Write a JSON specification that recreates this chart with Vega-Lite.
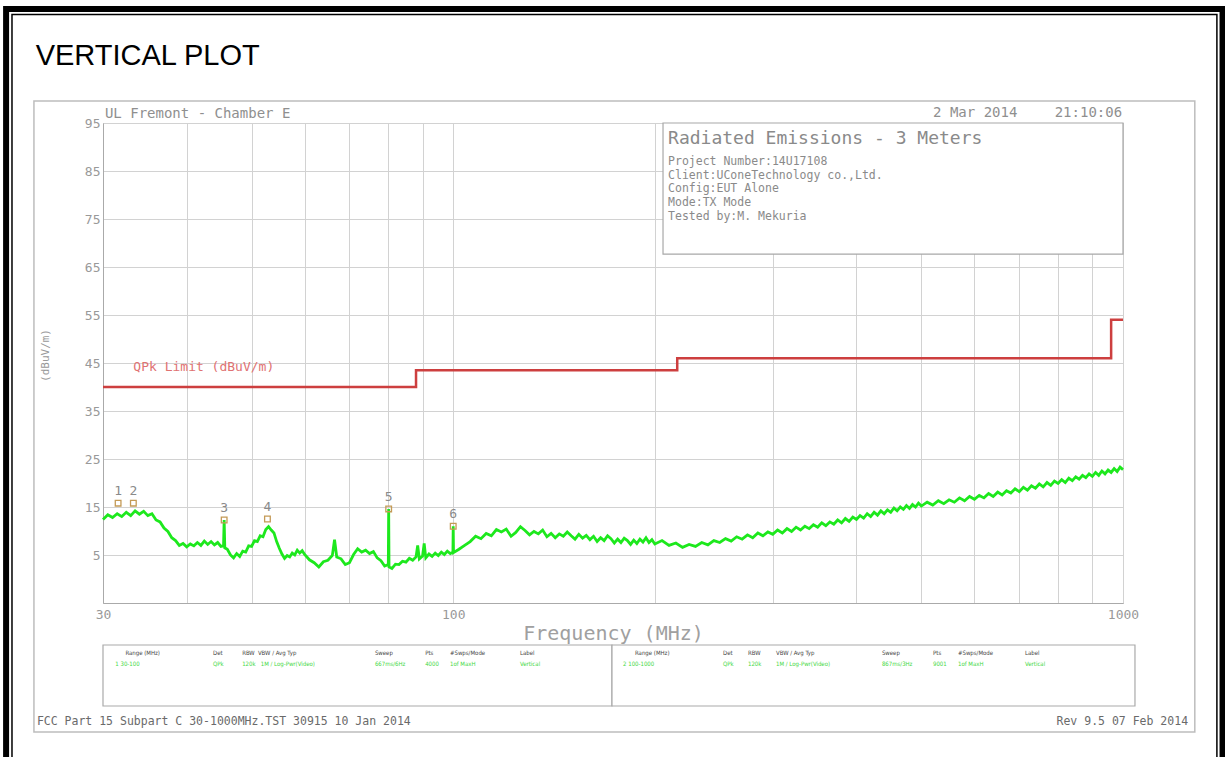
{
  "$schema": "https://vega.github.io/schema/vega-lite/v6.json",
  "width": 1020,
  "height": 480,
  "autosize": {"type": "none"},
  "padding": {"left": 103, "top": 123, "right": 102, "bottom": 154},
  "background": "white",
  "config": {
    "view": {"stroke": "#b0b0b0", "strokeWidth": 1},
    "text": {"font": "DejaVu Sans Mono"}
  },
  "encoding": {
    "x": {
      "field": "f", "type": "quantitative",
      "scale": {"type": "log", "domain": [30, 1000], "nice": false},
      "title": "Frequency (MHz)",
      "axis": {
        "values": [30, 40, 50, 60, 70, 80, 90, 100, 200, 300, 400, 500, 600, 700, 800, 900, 1000],
        "labelExpr": "datum.value == 30 || datum.value == 100 || datum.value == 1000 ? datum.label : ''",
        "format": "d", "ticks": false, "grid": true, "gridColor": "#d2d2d2", "domainColor": "#aaaaaa",
        "labelFlush": false, "labelOverlap": false, "labelFont": "DejaVu Sans Mono", "labelFontSize": 13,
        "labelColor": "#999999", "labelPadding": 5,
        "titleFont": "DejaVu Sans Mono", "titleFontSize": 20, "titleFontWeight": "normal",
        "titleColor": "#a0a0a0", "titleY": 20, "titleBaseline": "top"
      }
    },
    "y": {
      "field": "v", "type": "quantitative",
      "scale": {"domain": [-5, 95], "nice": false, "zero": false},
      "title": "(dBuV/m)",
      "axis": {
        "values": [-5, 5, 15, 25, 35, 45, 55, 65, 75, 85, 95],
        "labelExpr": "datum.value == -5 ? '' : datum.label",
        "ticks": false, "grid": true, "gridColor": "#d2d2d2", "domainColor": "#aaaaaa",
        "labelFont": "DejaVu Sans Mono", "labelFontSize": 13, "labelColor": "#999999", "labelPadding": 3,
        "titleFont": "DejaVu Sans Mono", "titleFontSize": 11, "titleFontWeight": "normal",
        "titleColor": "#999999", "titleX": -53, "titleY": 232, "titleAngle": -90
      }
    }
  },
  "layer": [
    {
      "data": {"values": [{"f": 21.5, "f2": 1408, "v": -40, "v2": 118.75}]},
      "mark": {"type": "rect", "fill": "white", "fillOpacity": 0, "stroke": "black", "strokeWidth": 6},
      "encoding": {"x2": {"field": "f2"}, "y2": {"field": "v2"}}
    },
    {
      "data": {"values": [{"f": 21.94, "f2": 1381, "v": -40, "v2": 117.6}]},
      "mark": {"type": "rect", "fill": "white", "fillOpacity": 0, "stroke": "black", "strokeWidth": 1.5},
      "encoding": {"x2": {"field": "f2"}, "y2": {"field": "v2"}}
    },
    {
      "data": {"values": [{"f": 23.66, "f2": 1280, "v": -31.9, "v2": 99.58}]},
      "mark": {"type": "rect", "fill": "white", "fillOpacity": 0, "stroke": "#bdbdbd", "strokeWidth": 1.5},
      "encoding": {"x2": {"field": "f2"}, "y2": {"field": "v2"}}
    },
    {
      "data": {"values": [{"f": 205.7, "f2": 1000, "v": 67.7, "v2": 95}]},
      "mark": {"type": "rect", "fill": "white", "stroke": "#a8a8a8", "strokeWidth": 1.2},
      "encoding": {"x2": {"field": "f2"}, "y2": {"field": "v2"}}
    },
    {
      "data": {"values": [{"f": 30, "f2": 172.6, "v": -26.46, "v2": -13.75}, {"f": 172.6, "f2": 1042, "v": -26.46, "v2": -13.75}]},
      "mark": {"type": "rect", "fill": "white", "stroke": "#aaaaaa", "strokeWidth": 1.2},
      "encoding": {"x2": {"field": "f2"}, "y2": {"field": "v2"}}
    },
    {
      "data": {"values": [{"f": 30, "v": 40}, {"f": 88, "v": 43.5}, {"f": 216, "v": 46}, {"f": 960, "v": 54}, {"f": 1000, "v": 54}]},
      "mark": {"type": "line", "interpolate": "step-after", "color": "#cd3f3f", "strokeWidth": 2.5},
      "encoding": {}
    },
    {
      "data": {"values": [
        {"f": 30, "v": 12.4}, {"f": 30.5, "v": 13.4}, {"f": 31, "v": 12.8}, {"f": 31.5, "v": 13.6}, {"f": 32, "v": 13.0},
        {"f": 32.5, "v": 13.9}, {"f": 33, "v": 13.2}, {"f": 33.5, "v": 14.2}, {"f": 34, "v": 13.5}, {"f": 34.5, "v": 14.1},
        {"f": 35, "v": 13.2}, {"f": 35.5, "v": 13.6}, {"f": 36, "v": 12.3}, {"f": 36.5, "v": 11.9}, {"f": 37, "v": 10.6},
        {"f": 37.5, "v": 9.9}, {"f": 38, "v": 8.6}, {"f": 38.5, "v": 8.0}, {"f": 39, "v": 7.0}, {"f": 39.5, "v": 7.4},
        {"f": 40, "v": 6.7}, {"f": 40.5, "v": 7.3}, {"f": 41, "v": 6.9}, {"f": 41.5, "v": 7.6}, {"f": 42, "v": 7.0},
        {"f": 42.5, "v": 7.9}, {"f": 43, "v": 7.2}, {"f": 43.5, "v": 7.8}, {"f": 44, "v": 7.1}, {"f": 44.5, "v": 7.6},
        {"f": 45, "v": 6.8}, {"f": 45.4, "v": 6.9}, {"f": 45.5, "v": 12.3}, {"f": 45.6, "v": 6.5}, {"f": 46, "v": 6.2},
        {"f": 46.5, "v": 5.0}, {"f": 47, "v": 4.4}, {"f": 47.5, "v": 5.3}, {"f": 48, "v": 4.7}, {"f": 48.5, "v": 5.8},
        {"f": 49, "v": 5.6}, {"f": 49.5, "v": 6.9}, {"f": 50, "v": 6.8}, {"f": 50.5, "v": 8.0}, {"f": 51, "v": 7.8},
        {"f": 51.5, "v": 9.0}, {"f": 52, "v": 8.8}, {"f": 52.5, "v": 10.3}, {"f": 53, "v": 10.9}, {"f": 53.5, "v": 10.2},
        {"f": 54, "v": 9.6}, {"f": 54.5, "v": 7.8}, {"f": 55, "v": 6.4}, {"f": 55.5, "v": 5.2}, {"f": 56, "v": 4.3},
        {"f": 56.5, "v": 4.9}, {"f": 57, "v": 4.6}, {"f": 57.5, "v": 5.4}, {"f": 58, "v": 5.0}, {"f": 58.5, "v": 6.0},
        {"f": 59, "v": 5.4}, {"f": 59.5, "v": 5.9}, {"f": 60, "v": 5.1}, {"f": 61, "v": 4.0}, {"f": 62, "v": 3.4},
        {"f": 63, "v": 2.5}, {"f": 64, "v": 3.6}, {"f": 65, "v": 3.9}, {"f": 66, "v": 4.9}, {"f": 66.5, "v": 8.2},
        {"f": 67, "v": 4.6}, {"f": 68, "v": 4.2}, {"f": 69, "v": 3.0}, {"f": 70, "v": 3.4}, {"f": 71, "v": 5.1},
        {"f": 72, "v": 6.3}, {"f": 73, "v": 5.6}, {"f": 74, "v": 6.0}, {"f": 75, "v": 5.3}, {"f": 76, "v": 5.7},
        {"f": 77, "v": 4.4}, {"f": 78, "v": 3.8}, {"f": 79, "v": 2.7}, {"f": 80, "v": 3.0}, {"f": 80.1, "v": 14.6},
        {"f": 80.2, "v": 2.5}, {"f": 81, "v": 2.2}, {"f": 82, "v": 3.1}, {"f": 83, "v": 3.0}, {"f": 84, "v": 3.7},
        {"f": 85, "v": 3.5}, {"f": 86, "v": 4.3}, {"f": 87, "v": 3.9}, {"f": 88, "v": 4.6}, {"f": 88.5, "v": 7.0},
        {"f": 89, "v": 4.2}, {"f": 90, "v": 4.8}, {"f": 90.5, "v": 7.4}, {"f": 91, "v": 4.4}, {"f": 92, "v": 5.2},
        {"f": 93, "v": 4.7}, {"f": 94, "v": 5.4}, {"f": 95, "v": 4.9}, {"f": 96, "v": 5.6}, {"f": 97, "v": 5.1},
        {"f": 98, "v": 5.8}, {"f": 99, "v": 5.3}, {"f": 99.9, "v": 5.6}, {"f": 100, "v": 11.0}, {"f": 100.1, "v": 5.5},
        {"f": 102, "v": 6.2}, {"f": 104, "v": 7.0}, {"f": 106, "v": 7.8}, {"f": 108, "v": 8.9}, {"f": 110, "v": 8.4},
        {"f": 112, "v": 9.5}, {"f": 114, "v": 9.0}, {"f": 116, "v": 10.3}, {"f": 118, "v": 9.8}, {"f": 120, "v": 10.4},
        {"f": 122, "v": 8.9}, {"f": 124, "v": 9.7}, {"f": 126, "v": 10.9}, {"f": 128, "v": 10.1}, {"f": 130, "v": 9.2},
        {"f": 132, "v": 9.9}, {"f": 134, "v": 9.4}, {"f": 136, "v": 10.2}, {"f": 138, "v": 8.8}, {"f": 140, "v": 9.5},
        {"f": 142, "v": 8.6}, {"f": 144, "v": 9.4}, {"f": 146, "v": 8.9}, {"f": 148, "v": 9.8}, {"f": 150, "v": 9.0},
        {"f": 152, "v": 8.3}, {"f": 154, "v": 9.3}, {"f": 156, "v": 8.5}, {"f": 158, "v": 9.1}, {"f": 160, "v": 8.2},
        {"f": 162, "v": 8.9}, {"f": 164, "v": 7.8}, {"f": 166, "v": 8.6}, {"f": 168, "v": 8.0}, {"f": 170, "v": 9.0},
        {"f": 172, "v": 8.4}, {"f": 174, "v": 7.5}, {"f": 176, "v": 8.3}, {"f": 178, "v": 7.6}, {"f": 180, "v": 8.5},
        {"f": 182, "v": 8.0}, {"f": 184, "v": 7.2}, {"f": 186, "v": 8.1}, {"f": 188, "v": 7.4}, {"f": 190, "v": 8.3},
        {"f": 192, "v": 7.7}, {"f": 194, "v": 8.6}, {"f": 196, "v": 7.6}, {"f": 198, "v": 8.2}, {"f": 200, "v": 7.3},
        {"f": 205, "v": 8.0}, {"f": 210, "v": 7.0}, {"f": 215, "v": 7.5}, {"f": 220, "v": 6.6}, {"f": 225, "v": 7.2},
        {"f": 230, "v": 6.8}, {"f": 235, "v": 7.6}, {"f": 240, "v": 7.1}, {"f": 245, "v": 8.0}, {"f": 250, "v": 7.6},
        {"f": 255, "v": 8.4}, {"f": 260, "v": 7.9}, {"f": 265, "v": 8.8}, {"f": 270, "v": 8.3}, {"f": 275, "v": 9.2},
        {"f": 280, "v": 8.6}, {"f": 285, "v": 9.6}, {"f": 290, "v": 9.0}, {"f": 295, "v": 9.8}, {"f": 300, "v": 9.3},
        {"f": 305, "v": 10.2}, {"f": 310, "v": 9.6}, {"f": 315, "v": 10.5}, {"f": 320, "v": 9.9}, {"f": 325, "v": 10.8},
        {"f": 330, "v": 10.2}, {"f": 335, "v": 11.0}, {"f": 340, "v": 10.5}, {"f": 345, "v": 11.3}, {"f": 350, "v": 10.8},
        {"f": 355, "v": 11.7}, {"f": 360, "v": 11.1}, {"f": 365, "v": 11.9}, {"f": 370, "v": 11.4}, {"f": 375, "v": 12.3},
        {"f": 380, "v": 11.7}, {"f": 385, "v": 12.6}, {"f": 390, "v": 12.0}, {"f": 395, "v": 12.9}, {"f": 400, "v": 12.4},
        {"f": 405, "v": 13.2}, {"f": 410, "v": 12.7}, {"f": 415, "v": 13.6}, {"f": 420, "v": 13.0}, {"f": 425, "v": 13.9},
        {"f": 430, "v": 13.3}, {"f": 435, "v": 14.2}, {"f": 440, "v": 13.6}, {"f": 445, "v": 14.4}, {"f": 450, "v": 13.9},
        {"f": 455, "v": 14.8}, {"f": 460, "v": 14.2}, {"f": 465, "v": 15.0}, {"f": 470, "v": 14.5}, {"f": 475, "v": 15.3},
        {"f": 480, "v": 14.7}, {"f": 485, "v": 15.5}, {"f": 490, "v": 15.0}, {"f": 495, "v": 15.8}, {"f": 500, "v": 15.2},
        {"f": 510, "v": 16.0}, {"f": 520, "v": 15.4}, {"f": 530, "v": 16.3}, {"f": 540, "v": 15.7}, {"f": 550, "v": 16.5},
        {"f": 560, "v": 16.0}, {"f": 570, "v": 16.9}, {"f": 580, "v": 16.3}, {"f": 590, "v": 17.2}, {"f": 600, "v": 16.6},
        {"f": 610, "v": 17.4}, {"f": 620, "v": 16.9}, {"f": 630, "v": 17.8}, {"f": 640, "v": 17.2}, {"f": 650, "v": 18.1},
        {"f": 660, "v": 17.5}, {"f": 670, "v": 18.4}, {"f": 680, "v": 17.9}, {"f": 690, "v": 18.8}, {"f": 700, "v": 18.2},
        {"f": 710, "v": 19.1}, {"f": 720, "v": 18.5}, {"f": 730, "v": 19.4}, {"f": 740, "v": 18.9}, {"f": 750, "v": 19.8},
        {"f": 760, "v": 19.2}, {"f": 770, "v": 20.1}, {"f": 780, "v": 19.5}, {"f": 790, "v": 20.4}, {"f": 800, "v": 19.9},
        {"f": 810, "v": 20.7}, {"f": 820, "v": 20.1}, {"f": 830, "v": 21.0}, {"f": 840, "v": 20.5}, {"f": 850, "v": 21.3},
        {"f": 860, "v": 20.8}, {"f": 870, "v": 21.6}, {"f": 880, "v": 21.1}, {"f": 890, "v": 21.9}, {"f": 900, "v": 21.4},
        {"f": 910, "v": 22.2}, {"f": 920, "v": 21.6}, {"f": 930, "v": 22.5}, {"f": 940, "v": 21.9}, {"f": 950, "v": 22.7},
        {"f": 960, "v": 22.2}, {"f": 970, "v": 23.0}, {"f": 980, "v": 22.4}, {"f": 990, "v": 23.3}, {"f": 1000, "v": 22.8}
      ]},
      "mark": {"type": "line", "color": "#1de81d", "strokeWidth": 2.8, "strokeJoin": "miter"},
      "encoding": {}
    },
    {
      "data": {"values": [
        {"id": "1", "f": 31.6, "v": 15.8}, {"id": "2", "f": 33.3, "v": 15.8}, {"id": "3", "f": 45.5, "v": 12.3},
        {"id": "4", "f": 52.8, "v": 12.5}, {"id": "5", "f": 80.1, "v": 14.6}, {"id": "6", "f": 100, "v": 11.0}
      ]},
      "layer": [
        {"mark": {"type": "point", "shape": "square", "filled": false, "stroke": "#c49a56", "strokeWidth": 1.3, "size": 32, "opacity": 1}},
        {"mark": {"type": "text", "dy": -12, "color": "#8a8a8a", "fontSize": 13}, "encoding": {"text": {"field": "id"}}}
      ]
    },
    {
      "data": {"values": [{"f": 33.3, "v": 44.2, "t": "QPk Limit (dBuV/m)"}]},
      "mark": {"type": "text", "align": "left", "baseline": "middle", "color": "#e07272", "fontSize": 13},
      "encoding": {"text": {"field": "t"}}
    },
    {
      "data": {"values": [{"f": 23.8, "v": 107.1, "t": "VERTICAL PLOT"}]},
      "mark": {"type": "text", "align": "left", "baseline": "alphabetic", "color": "black", "font": "Liberation Sans", "fontSize": 29},
      "encoding": {"text": {"field": "t"}}
    },
    {
      "data": {"values": [{"f": 30.2, "v": 96.9, "t": "UL Fremont - Chamber E"}, {"f": 520.5, "v": 97.0, "t": "2 Mar 2014"}]},
      "mark": {"type": "text", "align": "left", "baseline": "middle", "color": "#8f8f8f", "fontSize": 14},
      "encoding": {"text": {"field": "t"}}
    },
    {
      "data": {"values": [{"f": 997, "v": 97.0, "t": "21:10:06"}]},
      "mark": {"type": "text", "align": "right", "baseline": "middle", "color": "#8f8f8f", "fontSize": 14},
      "encoding": {"text": {"field": "t"}}
    },
    {
      "data": {"values": [{"f": 209.3, "v": 91.67, "t": "Radiated Emissions - 3 Meters"}]},
      "mark": {"type": "text", "align": "left", "baseline": "middle", "color": "#8a8a8a", "fontSize": 18},
      "encoding": {"text": {"field": "t"}}
    },
    {
      "data": {"values": [
        {"f": 209.3, "v": 86.94, "t": "Project Number:14U17108"},
        {"f": 209.3, "v": 84.0, "t": "Client:UConeTechnology co.,Ltd."},
        {"f": 209.3, "v": 81.19, "t": "Config:EUT Alone"},
        {"f": 209.3, "v": 78.27, "t": "Mode:TX Mode"},
        {"f": 209.3, "v": 75.35, "t": "Tested by:M. Mekuria"}
      ]},
      "mark": {"type": "text", "align": "left", "baseline": "middle", "color": "#8a8a8a", "fontSize": 11.5},
      "encoding": {"text": {"field": "t"}}
    },
    {
      "data": {"values": [
        {"f": 32.4, "v": -15.4, "t": "Range (MHz)"}, {"f": 43.8, "v": -15.4, "t": "Det"}, {"f": 48.4, "v": -15.4, "t": "RBW"},
        {"f": 51.1, "v": -15.4, "t": "VBW / Avg Typ"}, {"f": 76.4, "v": -15.4, "t": "Sweep"}, {"f": 90.8, "v": -15.4, "t": "Pts"},
        {"f": 98.9, "v": -15.4, "t": "#Swps/Mode"}, {"f": 125.8, "v": -15.4, "t": "Label"},
        {"f": 186.8, "v": -15.4, "t": "Range (MHz)"}, {"f": 252.8, "v": -15.4, "t": "Det"}, {"f": 275.5, "v": -15.4, "t": "RBW"},
        {"f": 303.3, "v": -15.4, "t": "VBW / Avg Typ"}, {"f": 436.6, "v": -15.4, "t": "Sweep"}, {"f": 520.4, "v": -15.4, "t": "Pts"},
        {"f": 567, "v": -15.4, "t": "#Swps/Mode"}, {"f": 714, "v": -15.4, "t": "Label"}
      ]},
      "mark": {"type": "text", "align": "left", "baseline": "middle", "color": "#444444", "font": "DejaVu Sans Condensed", "fontSize": 6},
      "encoding": {"text": {"field": "t"}}
    },
    {
      "data": {"values": [
        {"f": 31.3, "v": -17.7, "t": "1 30-100"}, {"f": 43.8, "v": -17.7, "t": "QPk"}, {"f": 48.4, "v": -17.7, "t": "120k"},
        {"f": 51.6, "v": -17.7, "t": "1M / Log-Pwr(Video)"}, {"f": 76.4, "v": -17.7, "t": "667ms/6Hz"}, {"f": 90.8, "v": -17.7, "t": "4000"},
        {"f": 98.9, "v": -17.7, "t": "1of MaxH"}, {"f": 125.8, "v": -17.7, "t": "Vertical"},
        {"f": 179.3, "v": -17.7, "t": "2 100-1000"}, {"f": 252.8, "v": -17.7, "t": "QPk"}, {"f": 275.5, "v": -17.7, "t": "120k"},
        {"f": 303.3, "v": -17.7, "t": "1M / Log-Pwr(Video)"}, {"f": 436.6, "v": -17.7, "t": "867ms/3Hz"}, {"f": 520.4, "v": -17.7, "t": "9001"},
        {"f": 567, "v": -17.7, "t": "1of MaxH"}, {"f": 714, "v": -17.7, "t": "Vertical"}
      ]},
      "mark": {"type": "text", "align": "left", "baseline": "middle", "color": "#3fd83f", "font": "DejaVu Sans Condensed", "fontSize": 6},
      "encoding": {"text": {"field": "t"}}
    },
    {
      "data": {"values": [{"f": 23.9, "v": -29.8, "t": "FCC Part 15 Subpart C 30-1000MHz.TST 30915 10 Jan 2014"}]},
      "mark": {"type": "text", "align": "left", "baseline": "middle", "color": "#6a6a6a", "fontSize": 11.5},
      "encoding": {"text": {"field": "t"}}
    },
    {
      "data": {"values": [{"f": 1250.7, "v": -29.8, "t": "Rev 9.5 07 Feb 2014"}]},
      "mark": {"type": "text", "align": "right", "baseline": "middle", "color": "#6a6a6a", "fontSize": 11.5},
      "encoding": {"text": {"field": "t"}}
    }
  ]
}
